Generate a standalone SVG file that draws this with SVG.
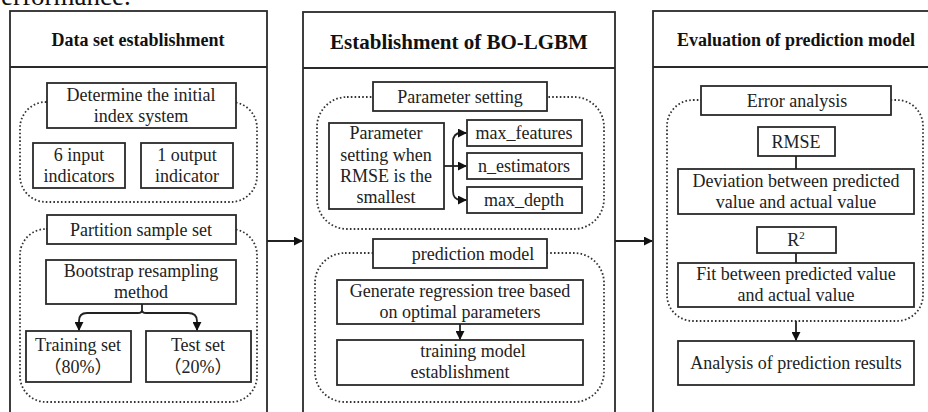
<svg xmlns="http://www.w3.org/2000/svg" width="928" height="412" viewBox="0 0 928 412">
  <defs>
    <style>
      .panel { fill: #fff; stroke: #2a2a2a; stroke-width: 1.8; }
      .div { stroke: #2a2a2a; stroke-width: 1.8; }
      .box { fill: #fff; stroke: #2a2a2a; stroke-width: 1.8; }
      .dot { fill: none; stroke: #333; stroke-width: 1.8; stroke-dasharray: 1.6 2.2; }
      .t { font-family: "Liberation Serif", "Noto Sans CJK SC", serif; font-size: 18px; fill: #222; text-anchor: middle; }
      .h { font-weight: bold; fill: #111; }
      .ln { fill: none; stroke: #222; stroke-width: 1.8; }
    </style>
    <marker id="arr" viewBox="0 0 10 10" refX="9" refY="5" markerWidth="9" markerHeight="9" markerUnits="userSpaceOnUse" orient="auto">
      <path d="M0,0 L10,5 L0,10 Z" fill="#111"/>
    </marker>
  </defs>

  <rect width="928" height="412" fill="#fff"/>

  <!-- tail of the preceding text line -->
  <text x="1" y="5" font-family="Liberation Serif, serif" font-size="27" fill="#111">erformance.</text>

  <!-- column 1: data set -->
  <g id="panel-dataset">
    <rect class="panel" x="10" y="11" width="257" height="420"/>
    <line class="div" x1="10" y1="67" x2="267" y2="67"/>
    <text class="t h" x="138" y="46">Data set establishment</text>
  </g>
  <g id="grp-index">
    <rect class="dot" x="20" y="102" width="237" height="100" rx="26"/>
  </g>
  <g id="n-index">
    <rect class="box" x="47" y="83" width="189" height="45"/>
    <text class="t" x="141" y="101">Determine the initial</text>
    <text class="t" x="141" y="122">index system</text>
  </g>
  <g id="n-input">
    <rect class="box" x="33" y="143" width="92" height="45"/>
    <text class="t" x="79" y="161">6 input</text>
    <text class="t" x="79" y="182">indicators</text>
  </g>
  <g id="n-output">
    <rect class="box" x="141" y="143" width="92" height="45"/>
    <text class="t" x="187" y="161">1 output</text>
    <text class="t" x="187" y="182">indicator</text>
  </g>
  <g id="grp-partition">
    <rect class="dot" x="20" y="229" width="237" height="173" rx="26"/>
  </g>
  <g id="n-partition">
    <rect class="box" x="47" y="215" width="189" height="29"/>
    <text class="t" x="141" y="236">Partition sample set</text>
  </g>
  <g id="n-bootstrap">
    <rect class="box" x="46" y="260" width="190" height="44"/>
    <text class="t" x="141" y="277">Bootstrap resampling</text>
    <text class="t" x="141" y="298">method</text>
  </g>
  <g id="n-train">
    <rect class="box" x="26" y="331" width="105" height="51"/>
    <text class="t" x="78" y="351">Training set</text>
    <text class="t" x="78" y="373">（80%）</text>
  </g>
  <g id="n-test">
    <rect class="box" x="146" y="331" width="105" height="51"/>
    <text class="t" x="198" y="351">Test set</text>
    <text class="t" x="198" y="373">（20%）</text>
  </g>

  <!-- column 2: model -->
  <g id="panel-model">
    <rect class="panel" x="303" y="12" width="312" height="420"/>
    <line class="div" x1="303" y1="68" x2="615" y2="68"/>
    <text class="t h" x="459" y="49" style="font-size:21px">Establishment of BO-LGBM</text>
  </g>
  <g id="grp-param">
    <rect class="dot" x="317" y="97" width="287" height="132" rx="30"/>
  </g>
  <g id="n-param">
    <rect class="box" x="373" y="82" width="174" height="29"/>
    <text class="t" x="460" y="103">Parameter setting</text>
  </g>
  <g id="n-rmse-min">
    <rect class="box" x="329" y="123" width="115" height="86"/>
    <text class="t" x="386" y="139">Parameter</text>
    <text class="t" x="386" y="161">setting when</text>
    <text class="t" x="386" y="182">RMSE is the</text>
    <text class="t" x="386" y="203">smallest</text>
  </g>
  <g id="n-maxfeat">
    <rect class="box" x="467" y="120" width="115" height="26"/>
    <text class="t" x="524" y="139">max_features</text>
  </g>
  <g id="n-nest">
    <rect class="box" x="467" y="153" width="115" height="26"/>
    <text class="t" x="524" y="172">n_estimators</text>
  </g>
  <g id="n-maxdepth">
    <rect class="box" x="467" y="187" width="115" height="26"/>
    <text class="t" x="524" y="206">max_depth</text>
  </g>
  <g id="grp-pred">
    <rect class="dot" x="315" y="253" width="289" height="149" rx="30"/>
  </g>
  <g id="n-pred">
    <rect class="box" x="373" y="239" width="174" height="29"/>
    <text class="t" x="473" y="260">prediction model</text>
  </g>
  <g id="n-tree">
    <rect class="box" x="337" y="280" width="246" height="44"/>
    <text class="t" x="460" y="297">Generate regression tree based</text>
    <text class="t" x="460" y="318">on optimal parameters</text>
  </g>
  <g id="n-training">
    <rect class="box" x="337" y="340" width="246" height="45"/>
    <text class="t" x="473" y="357">training model</text>
    <text class="t" x="460" y="378">establishment</text>
  </g>

  <!-- column 3: evaluation -->
  <g id="panel-eval">
    <rect class="panel" x="653" y="11" width="290" height="420"/>
    <line class="div" x1="653" y1="67" x2="943" y2="67"/>
    <text class="t h" x="796" y="46">Evaluation of prediction model</text>
  </g>
  <g id="grp-error">
    <rect class="dot" x="667" y="100" width="256" height="221" rx="26"/>
  </g>
  <g id="n-error">
    <rect class="box" x="701" y="86" width="190" height="29"/>
    <text class="t" x="797" y="107">Error analysis</text>
  </g>
  <g id="n-rmse">
    <rect class="box" x="758" y="127" width="77" height="29"/>
    <text class="t" x="796" y="148">RMSE</text>
  </g>
  <g id="n-dev">
    <rect class="box" x="678" y="169" width="236" height="45"/>
    <text class="t" x="796" y="187">Deviation between predicted</text>
    <text class="t" x="796" y="208">value and actual value</text>
  </g>
  <g id="n-r2">
    <rect class="box" x="757" y="227" width="79" height="26"/>
    <text class="t" x="796" y="246">R<tspan dy="-7" style="font-size:11px">2</tspan></text>
  </g>
  <g id="n-fit">
    <rect class="box" x="678" y="263" width="236" height="44"/>
    <text class="t" x="796" y="280">Fit between predicted value</text>
    <text class="t" x="796" y="301">and actual value</text>
  </g>
  <g id="n-results">
    <rect class="box" x="678" y="341" width="236" height="44"/>
    <text class="t" x="796" y="369">Analysis of prediction results</text>
  </g>

  <!-- connectors -->
  <g id="connectors">
    <line class="ln" x1="267" y1="241" x2="302" y2="241" marker-end="url(#arr)"/>
    <line class="ln" x1="615" y1="241" x2="652" y2="241" marker-end="url(#arr)"/>
    <!-- bootstrap split -->
    <path class="ln" d="M142,304 V310 Q142,313 138,313 H87 Q79,313 79,321 V330" marker-end="url(#arr)"/>
    <path class="ln" d="M142,310 Q142,313 146,313 H188 Q197,313 197,321 V330" marker-end="url(#arr)"/>
    <!-- parameter fan-out -->
    <line class="ln" x1="444" y1="166" x2="466" y2="166" marker-end="url(#arr)"/>
    <path class="ln" d="M453,166 V142 Q453,133 461,133 H466" marker-end="url(#arr)"/>
    <path class="ln" d="M453,166 V191 Q453,200 461,200 H466" marker-end="url(#arr)"/>
    <!-- tree to training -->
    <line class="ln" x1="460" y1="324" x2="460" y2="339" marker-end="url(#arr)"/>
    <!-- evaluation links -->
    <line class="ln" x1="796" y1="156" x2="796" y2="169"/>
    <line class="ln" x1="796" y1="253" x2="796" y2="263"/>
    <line class="ln" x1="796" y1="321" x2="796" y2="340" marker-end="url(#arr)"/>
  </g>
</svg>
